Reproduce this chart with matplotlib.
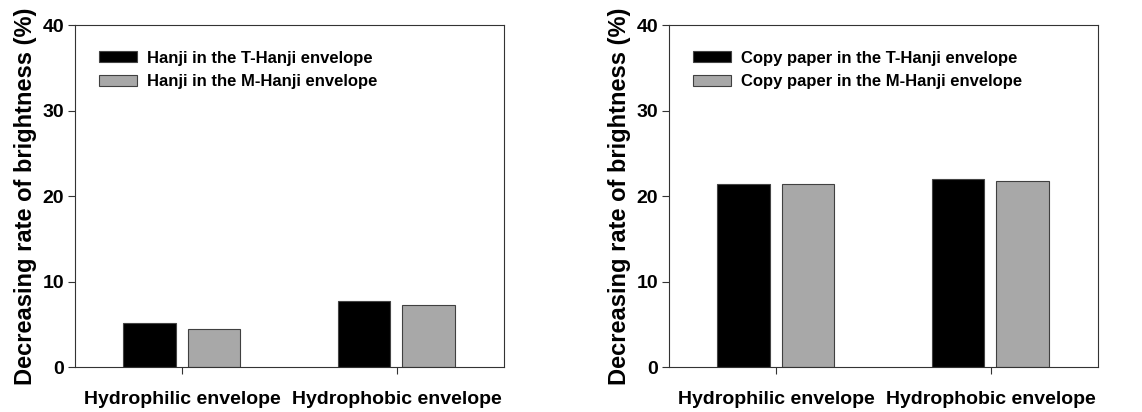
import numpy as np
import matplotlib
matplotlib.use("Agg")
import matplotlib.pyplot as plt

plt.rcParams['font.family'] = ['Liberation Sans', 'DejaVu Sans']
plt.rcParams['font.weight'] = 'bold'
plt.rcParams['axes.labelweight'] = 'bold'

categories = ['Hydrophilic envelope', 'Hydrophobic envelope']

# left panel: Hanji
hanji_t = [5.2, 7.7]
hanji_m = [4.5, 7.2]
hanji_labels = ['Hanji in the T-Hanji envelope', 'Hanji in the M-Hanji envelope']

# right panel: copy paper
copy_t = [21.4, 22.0]
copy_m = [21.35, 21.8]
copy_labels = ['Copy paper in the T-Hanji envelope', 'Copy paper in the M-Hanji envelope']

yticks = [0, 10, 20, 30, 40]
ylabel = 'Decreasing rate of brightness (%)'

W, H = 1142, 412
fig = plt.figure(figsize=(W / 100, H / 100), dpi=100)


def panel(left_px, t_vals, m_vals, labels):
    ax = fig.add_axes([left_px / W, 1 - 367 / H, 429 / W, 342 / H])
    x = np.arange(len(categories))
    w = 0.245
    ax.bar(x - 0.153, t_vals, w, color='black', edgecolor='#444444', linewidth=0.8,
           label=labels[0])
    ax.bar(x + 0.148, m_vals, w, color='#a8a8a8', edgecolor='#404040', linewidth=0.8,
           label=labels[1])
    ax.set_xlim(-0.5, 1.5)
    ax.set_ylim(0, 40)
    ax.set_yticks(yticks)
    ax.set_xticks(x)
    ax.set_xticklabels(categories, fontsize=14)
    ax.tick_params(axis='y', labelsize=14, length=5, width=0.8, color='#333333', pad=3)
    ax.tick_params(axis='x', length=5, width=0.8, color='#333333', pad=12)
    for s in ax.spines.values():
        s.set_color('#333333')
        s.set_linewidth(0.8)
    ax.set_ylabel(ylabel, fontsize=17, labelpad=4)
    ax.legend(loc='upper left', bbox_to_anchor=(0.056, 0.925), frameon=False,
              fontsize=12, handlelength=2.3, handleheight=0.65,
              handletextpad=0.6, labelspacing=0.5, borderpad=0, borderaxespad=0)
    return ax


panel(75, hanji_t, hanji_m, hanji_labels)
panel(669, copy_t, copy_m, copy_labels)

fig.savefig('out.png', dpi=100)
